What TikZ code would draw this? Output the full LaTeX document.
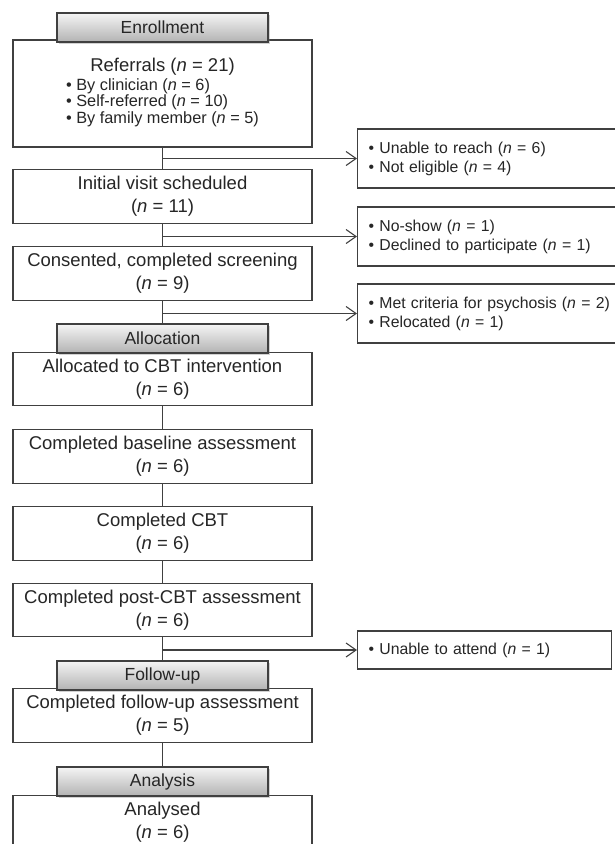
\documentclass[tikz,border=0pt]{standalone}
\usepackage{fontspec}
\setmainfont{Liberation Sans}
\usetikzlibrary{arrows.meta,shadows}

\begin{document}
\begin{tikzpicture}[x=1pt,y=-1pt,>={Straight Barb[length=10pt,width=14pt]},
  box/.style={draw=black!75,line width=1.1pt,fill=white,minimum width=299pt,minimum height=53.5pt,inner sep=0pt,align=center,text=black!85,font=\fontsize{18.5}{23}\selectfont},
  tab/.style={draw=black!75,line width=1.1pt,top color=black!4,bottom color=black!30,minimum width=211pt,minimum height=29pt,inner sep=0pt,text=black!85,font=\fontsize{17.5}{20}\selectfont,drop shadow={shadow xshift=1.5pt,shadow yshift=-1.5pt,opacity=.35}},
  excl/.style={draw=black!75,line width=1.1pt,fill=white,anchor=west,minimum height=59pt,text width=262pt,inner xsep=11pt,align=left,text=black!85,font=\fontsize{15.8}{19}\selectfont},
  link/.style={draw=black!75,line width=1.1pt}]
\useasboundingbox (0,0) rectangle (615,844);
\clip (0,0) rectangle (615,844);
% main column
\node[box,minimum height=107pt] (ref) at (162.5,93.5) {Referrals (\textit{n} = 21)\\[1.5pt]{\fontsize{16.3}{16.5}\selectfont\begin{tabular}{@{}l@{}}\textbullet\ By clinician (\textit{n} = 6)\\ \textbullet\ Self-referred (\textit{n} = 10)\\ \textbullet\ By family member (\textit{n} = 5)\end{tabular}}};
\node[box] (visit) at (162.5,196.5) {Initial visit scheduled\\(\textit{n} = 11)};
\node[box] (consent) at (162.5,273.5) {Consented, completed screening\\(\textit{n} = 9)};
\node[box] (alloc) at (162.5,379) {Allocated to CBT intervention\\(\textit{n} = 6)};
\node[box] (base) at (162.5,456.5) {Completed baseline assessment\\(\textit{n} = 6)};
\node[box] (cbt) at (162.5,533.5) {Completed CBT\\(\textit{n} = 6)};
\node[box] (post) at (162.5,610) {Completed post-CBT assessment\\(\textit{n} = 6)};
\node[box] (fup) at (162.5,715.5) {Completed follow-up assessment\\(\textit{n} = 5)};
\node[box] (anl) at (162.5,822) {Analysed\\(\textit{n} = 6)};
% exclusions
\node[excl] (ex1) at (357,158.5) {\textbullet\ Unable to reach (\textit{n} = 6)\\ \textbullet\ Not eligible (\textit{n} = 4)};
\node[excl] (ex2) at (357,236.5) {\textbullet\ No-show (\textit{n} = 1)\\ \textbullet\ Declined to participate (\textit{n} = 1)};
\node[excl] (ex3) at (357,313.5) {\textbullet\ Met criteria for psychosis (\textit{n} = 2)\\ \textbullet\ Relocated (\textit{n} = 1)};
\node[excl,minimum height=38pt,text width=232pt] (ex4) at (357,650) {\textbullet\ Unable to attend (\textit{n} = 1)};
% connectors
\draw[link] (ref) -- (visit);
\draw[link] (visit) -- (consent);
\draw[link] (consent) -- (alloc);
\draw[link] (alloc) -- (base);
\draw[link] (base) -- (cbt);
\draw[link] (cbt) -- (post);
\draw[link] (post) -- (fup);
\draw[link] (fup) -- (anl);
\draw[link,->] (ref.south |- ex1.west) -- (ex1.west);
\draw[link,->] (visit.south |- ex2.west) -- (ex2.west);
\draw[link,->] (consent.south |- ex3.west) -- (ex3.west);
\draw[link,->] (post.south |- ex4.west) -- (ex4.west);
% stage tabs
\node[tab] (enroll) at (162.5,27.5) {Enrollment};
\node[tab] (allocation) at (162.5,338.5) {Allocation};
\node[tab] (followup) at (162.5,675.5) {Follow-up};
\node[tab] (analysis) at (162.5,781.5) {Analysis};
\end{tikzpicture}
\end{document}
